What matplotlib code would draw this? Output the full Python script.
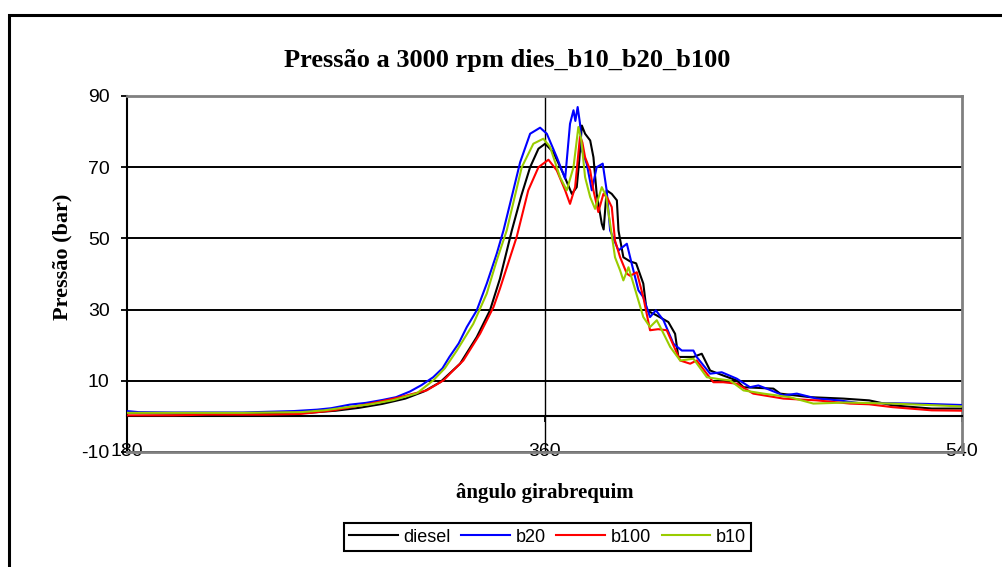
import matplotlib
matplotlib.use('Agg')
import matplotlib.pyplot as plt
from matplotlib.patches import Rectangle

# ---------------- data ----------------
diesel_x = [180, 200, 220, 240, 258, 270, 280, 290, 300, 308, 315, 323.6, 330.8, 336.5, 340.8, 345.9,
            350, 353.8, 357.4, 360.3, 363.8, 368.1, 371.8, 373.9, 375, 376.1, 377.5, 379.7, 381.1, 382.5,
            384.7, 385.5, 386.8, 389, 391.2, 391.9, 394, 397, 399.5, 402.6, 404, 408, 413.4, 416.3, 417.7,
            424.2, 427.8, 431.4, 437, 442.9, 445.8, 458.7, 461.6, 474.5, 488.9, 500, 510, 527, 540]
diesel_y = [1.0, 0.8, 0.8, 0.8, 1.0, 1.6, 2.4, 3.5, 5.0, 7.0, 9.6, 14.8, 22.3, 29.8, 38.7, 52.2,
            62, 70, 75.2, 76.6, 74.2, 68.2, 62.5, 64.4, 72, 81.7, 79.4, 77.5, 72.8, 62.5,
            54.1, 52.5, 63.5, 62.5, 60.7, 52.2, 44.7, 43.5, 43, 37.3, 29.8, 28.5, 26.5, 23.2, 16.7,
            16.7, 17.6, 12.9, 11.5, 10.1, 8.2, 7.8, 6.4, 5.4, 5.0, 4.5, 3.1, 2.2, 2.2]

b20_x = [180, 185, 200, 230, 252, 262, 268, 276, 283, 290, 296, 302, 307, 312, 316, 319, 323, 326.5,
         330.8, 335.1, 339.4, 342.3, 346, 349.5, 353.8, 358.1, 361, 365.3, 368.9, 371, 372.5, 373.3,
         374.3, 375.3, 376.1, 378.2, 380.4, 382.5, 385.1, 386.8, 388.3, 391.9, 395.5, 397.6, 400.5,
         402.6, 405.5, 408, 411.3, 415.6, 419.2, 424.2, 425.6, 431.4, 436.4, 442.9, 448.6, 452.2,
         455.8, 463, 468.8, 477.4, 487, 496, 510, 525, 540]
b20_y = [1.5, 1.2, 1.1, 1.1, 1.5, 1.9, 2.3, 3.3, 3.8, 4.6, 5.4, 7.0, 8.8, 11, 13.5, 16.7, 20.5, 25.1,
         29.8, 37.3, 45.7, 52.2, 62, 71.4, 79.4, 81.1, 79.4, 72.8, 66.8, 82.2, 86, 83,
         86.9, 82.3, 74.7, 71, 63.5, 70, 71, 63.5, 52.2, 46.6, 48.5, 42.9, 35.4,
         33.5, 27.9, 29.8, 27, 20.4, 18.5, 18.5, 16.7, 12, 12.4, 10.6, 8.2, 8.7,
         7.8, 5.9, 6.4, 5.0, 4.5, 3.7, 3.7, 3.5, 3.2]

b100_x = [180, 200, 215, 240, 255, 269, 276, 283.4, 290, 297.7, 303, 309.2, 316.4, 320, 325, 332.2,
          338, 340.8, 348, 353, 357.4, 361.7, 365.3, 368.9, 371, 373.2, 375.3, 376.3, 377.5, 379.7,
          381.1, 383.2, 385.4, 387, 389, 390.4, 392.6, 395.5, 396.9, 399.8, 402.6, 405.5, 409, 412.7,
          418.5, 422.8, 425.6, 432.8, 437, 442.9, 450, 463, 477.4, 491.8, 500, 510, 527, 540]
b100_y = [0.3, 0.3, 0.5, 0.5, 0.7, 1.7, 2.5, 3.4, 4.3, 5.4, 6.3, 7.3, 10.1, 12.5, 15.7, 23.2,
          30.7, 35.9, 50.4, 63.5, 70, 72.1, 69.1, 63.5, 59.7, 64.4, 78.6, 77, 72.8, 69.1,
          63.5, 57.4, 62.5, 61.5, 58.8, 49.4, 44.7, 40.1, 39.5, 40.5, 33.5, 24.2, 24.5, 24.2,
          15.7, 14.8, 15.7, 9.6, 9.6, 9.2, 6.4, 5.0, 4.5, 3.6, 3.4, 2.6, 1.7, 1.6]

b10_x = [180, 200, 230, 255, 265, 275, 285, 295, 305, 312, 317, 322.2, 329.3, 335.1, 339.4, 343.7,
         350.2, 355.2, 359.5, 362.4, 366.7, 369.6, 372.5, 374.6, 375.8, 377.5, 379.7, 381.8, 384.7,
         386.5, 388.3, 390.4, 392.6, 394, 396.2, 398, 402.6, 405.5, 408.4, 410, 414.2, 418.5, 424.2,
         430, 435, 440, 445.8, 454.4, 465.8, 475.9, 490, 510, 525, 540]
b10_y = [1.0, 1.0, 1.0, 1.2, 1.7, 2.6, 3.4, 4.6, 6.5, 10.1, 13.5, 18.5, 26, 34.5, 43.8, 52.2,
         70, 76.6, 78, 75.7, 67.2, 63.5, 70, 81.3, 78, 67.2, 61.6, 58.3, 64.4,
         62, 54.1, 44.7, 41, 38.2, 41.9, 38, 27.9, 25.1, 27, 25, 19.5, 15.7, 16.2,
         11, 10.5, 10.1, 7.3, 6.4, 5.4, 3.6, 3.9, 3.6, 3.2, 2.8]

series_names = ["diesel", "b20", "b100", "b10"]
series_colors = ["#000000", "#0000FF", "#FF0000", "#99CC00"]
x_ticks = [180, 360, 540]
y_ticks = [-10, 10, 30, 50, 70, 90]
title = "Pressão a 3000 rpm dies_b10_b20_b100"
x_label = "ângulo girabrequim"
y_label = "Pressão (bar)"

# ---------------- figure ----------------
plt.rcParams['font.family'] = ['Liberation Sans', 'DejaVu Sans']
plt.rcParams['axes.unicode_minus'] = False
W, H = 1002, 567
fig = plt.figure(figsize=(W / 100, H / 100), dpi=100)
fig.patch.set_facecolor('white')

# outer chart-area border (extends beyond right and bottom edges)
fig.patches.append(Rectangle((9 / W, -0.1), 1.2, 1 - 14.7 / H + 0.1, transform=fig.transFigure,
                             fill=False, edgecolor='black', linewidth=2.2))

ax = fig.add_axes([127 / W, 1 - 452 / H, (962 - 127) / W, (452 - 96) / H])
ax.set_xlim(180, 540)
ax.set_ylim(-10, 90)

data = [(diesel_x, diesel_y), (b20_x, b20_y), (b100_x, b100_y), (b10_x, b10_y)]
for (xs, ys), name, col in zip(data, series_names, series_colors):
    ax.plot(xs, ys, color=col, lw=1.5, label=name, zorder=3)

ax.set_xticks(x_ticks)
ax.set_yticks(y_ticks)
ax.grid(axis='y', color='black', lw=1.4, zorder=1)
ax.axvline(360, color='black', lw=1.0, zorder=1)

ax.spines['bottom'].set_position(('data', 0))
ax.spines['bottom'].set_color('black')
ax.spines['bottom'].set_linewidth(1.5)
ax.spines['left'].set_color('black')
ax.spines['left'].set_linewidth(1.5)
for s in ['top', 'right']:
    ax.spines[s].set_color('#808080')
    ax.spines[s].set_linewidth(2)
ax.axhline(-10, color='#808080', lw=2, clip_on=False, zorder=4)

ax.tick_params(axis='y', direction='out', length=4.5, width=1.3, pad=8, labelsize=14)
ax.tick_params(axis='x', direction='out', length=4.5, width=1.3, pad=15, labelsize=14)

serif = ['Liberation Serif', 'DejaVu Serif']
fig.text(507 / W, 1 - 60 / H, title, ha='center', va='center', fontsize=19, fontweight='bold', family=serif)
fig.text(545 / W, 1 - 493 / H, x_label, ha='center', va='center', fontsize=15, fontweight='bold', family=serif)
fig.text(62 / W, 1 - 257 / H, y_label, ha='center', va='center', rotation=90, fontsize=16,
         fontweight='bold', family=serif)

leg = fig.legend(loc='center', bbox_to_anchor=(547.5 / W, 1 - 537 / H), ncol=4, frameon=True,
                 fancybox=False, edgecolor='black', framealpha=1, handlelength=2.7,
                 handletextpad=0.3, columnspacing=0.6, borderpad=0.3, fontsize=13, borderaxespad=0)
leg.get_frame().set_linewidth(1.5)
for line in leg.get_lines():
    line.set_linewidth(1.5)

fig.savefig('out.png', dpi=100)
